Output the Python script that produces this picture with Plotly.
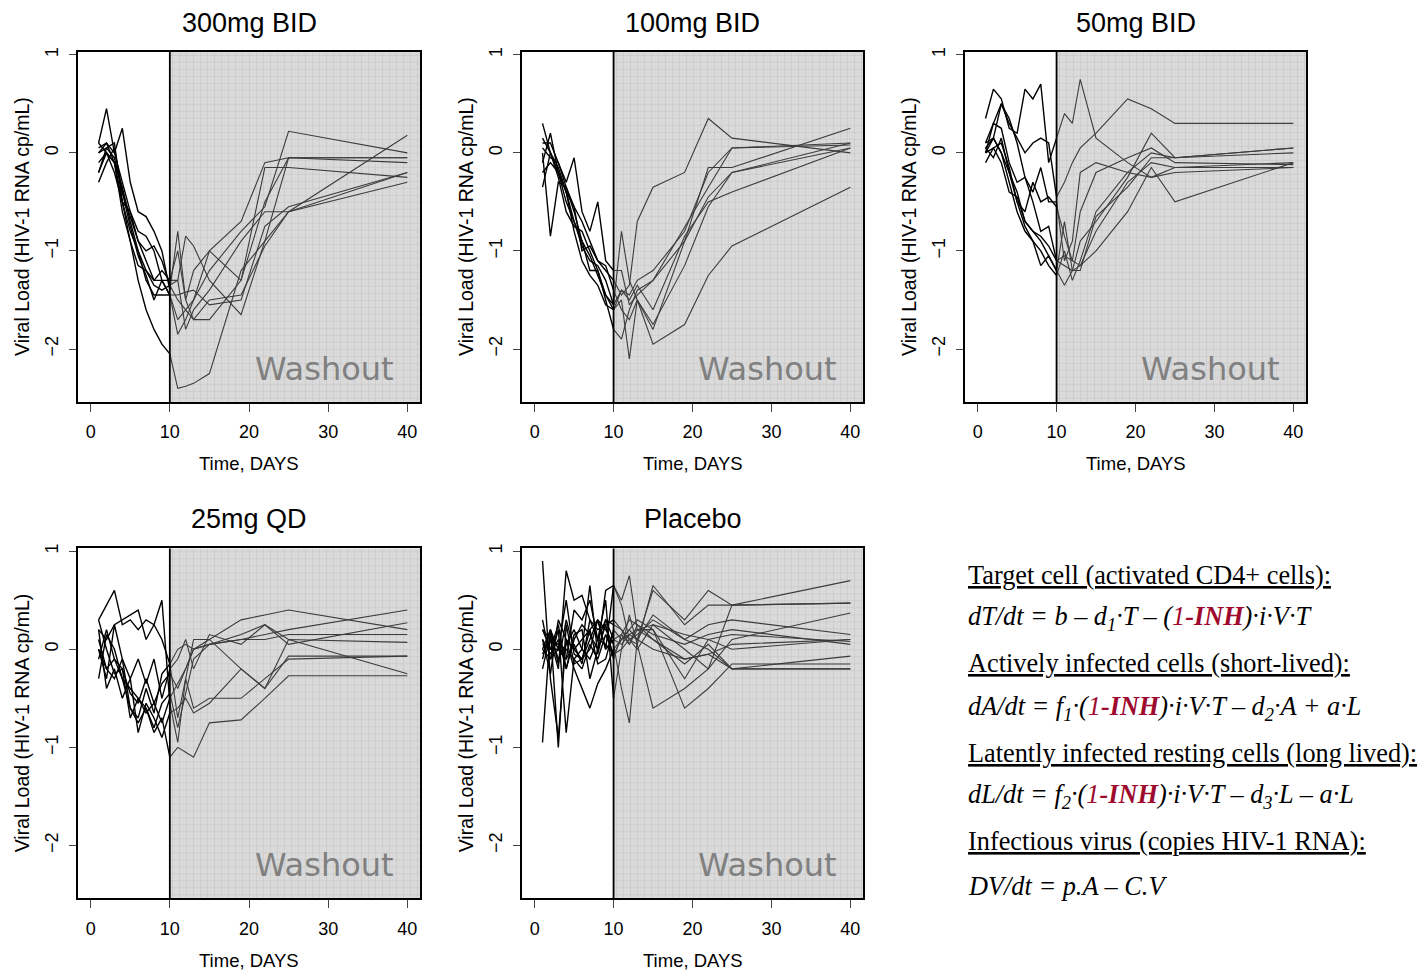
import plotly.graph_objects as go

# ---------------- data ----------------
panel_titles = ["300mg BID", "100mg BID", "50mg BID", "25mg QD", "Placebo"]
treat_days = [1, 2, 3, 4, 5, 6, 7, 8, 9, 10]
washout_days = [11, 12, 13, 15, 19, 22, 25, 40]
washout_start = 10
x_ticks = [0, 10, 20, 30, 40]
y_ticks = [-2, -1, 0, 1]

bid300_treat = [
    [0.1, 0.45, 0.0, -0.3, -0.6, -0.9, -1.1, -1.3, -1.3, -1.45],
    [-0.2, 0.05, 0.1, -0.5, -0.9, -1.3, -1.6, -1.8, -1.95, -2.05],
    [0.0, 0.1, 0.0, 0.25, -0.3, -0.6, -0.65, -0.8, -1.0, -1.4],
    [0.1, 0.0, -0.1, -0.5, -0.6, -0.8, -0.85, -1.0, -1.3, -1.3],
    [-0.1, 0.0, -0.2, -0.5, -0.8, -1.0, -1.2, -1.35, -1.4, -1.35],
    [0.05, 0.1, -0.1, -0.6, -0.9, -1.15, -1.2, -1.3, -1.2, -1.3],
    [-0.2, 0.0, -0.1, -0.35, -0.7, -1.0, -1.3, -1.45, -1.45, -1.45],
    [0.0, 0.05, -0.05, -0.4, -0.65, -0.9, -1.0, -0.95, -1.1, -1.35],
    [-0.3, -0.1, 0.05, -0.4, -0.75, -1.05, -1.25, -1.5, -1.3, -1.45],
]
bid300_washout = [
    [-1.85, -1.7, -1.5, -1.2, -0.8, -0.55, 0.22, 0.0],
    [-2.4, -2.38, -2.35, -2.25, -1.2, -0.9, -0.6, -0.3],
    [-0.8, -1.5, -1.2, -1.0, -1.3, -0.15, -0.15, -0.25],
    [-1.3, -0.85, -0.95, -1.3, -1.65, -0.9, -0.05, -0.05],
    [-1.3, -1.8, -1.6, -1.4, -0.9, -0.6, -0.6, -0.2],
    [-1.0, -1.5, -1.7, -1.7, -1.3, -0.5, -0.05, -0.1],
    [-1.7, -1.6, -1.5, -1.0, -0.7, -0.1, -0.05, -0.05],
    [-1.5, -1.6, -1.7, -1.5, -1.45, -0.95, -0.6, 0.18],
    [-1.45, -1.42, -1.4, -1.55, -1.5, -0.75, -0.55, -0.2],
]

bid100_treat = [
    [0.3, 0.0, -0.15, -0.4, -0.55, -1.0, -0.95, -1.1, -1.2, -1.3],
    [0.0, -0.85, -0.3, -0.35, -0.55, -0.7, -0.9, -1.1, -1.15, -1.4],
    [0.1, 0.1, -0.1, -0.3, -0.05, -0.6, -0.8, -0.5, -1.1, -1.2],
    [-0.1, 0.2, -0.2, -0.4, -0.7, -0.9, -1.2, -1.2, -1.45, -1.6],
    [-0.35, 0.0, -0.2, -0.5, -0.7, -0.95, -1.1, -1.15, -1.3, -1.55],
    [0.15, 0.0, -0.25, -0.6, -0.75, -0.8, -1.0, -1.2, -1.5, -1.8],
    [0.05, -0.05, -0.1, -0.35, -0.6, -0.9, -1.05, -1.25, -1.45, -1.55],
    [-0.2, -0.1, -0.2, -0.4, -0.8, -1.1, -1.25, -1.35, -1.55, -1.6],
]
bid100_washout = [
    [-1.45, -1.35, -0.7, -0.35, -0.2, 0.35, 0.15, 0.0],
    [-1.6, -1.7, -1.5, -1.8, -0.9, -0.15, -0.15, 0.25],
    [-1.2, -1.55, -1.45, -1.3, -0.75, -0.35, 0.05, 0.1],
    [-1.5, -2.1, -1.5, -1.95, -1.75, -1.25, -0.95, -0.35],
    [-0.8, -1.3, -1.5, -1.75, -1.15, -0.55, -0.2, 0.05],
    [-1.9, -1.6, -1.4, -1.3, -0.9, -0.45, -0.2, 0.1],
    [-1.4, -1.45, -1.3, -1.2, -0.8, -0.2, 0.05, 0.08],
    [-1.4, -1.5, -1.35, -1.6, -0.85, -0.5, -0.4, 0.05],
]

bid50_treat = [
    [0.35, 0.65, 0.55, 0.25, 0.2, 0.65, 0.55, 0.7, -0.1, 0.15],
    [0.1, 0.3, 0.5, 0.3, 0.15, 0.0, 0.1, 0.15, 0.1, -0.45],
    [0.0, 0.3, 0.25, -0.1, -0.3, -0.25, -0.5, -0.8, -0.75, -1.1],
    [0.05, 0.15, 0.0, -0.3, -0.6, -0.8, -0.9, -1.0, -1.15, -1.25],
    [-0.1, 0.05, 0.1, -0.15, -0.5, -0.75, -0.9, -1.15, -1.05, -1.2],
    [0.05, -0.05, 0.15, -0.2, -0.4, -0.7, -0.8, -0.85, -0.95, -1.1],
    [0.0, 0.15, 0.0, -0.2, -0.5, -0.6, -0.3, -0.5, -0.45, -0.55],
    [0.1, 0.15, 0.5, 0.35, 0.1, -0.25, -0.4, -0.15, -0.5, -0.5],
    [0.0, 0.05, -0.1, -0.4, -0.45, -0.7, -0.8, -0.9, -1.05, -1.2],
]
bid50_washout = [
    [0.4, 0.3, 0.75, 0.15, -0.1, -0.25, -0.2, -0.15],
    [-0.3, -0.1, 0.05, 0.2, 0.55, 0.45, 0.3, 0.3],
    [-1.15, -1.2, -0.9, -0.7, -0.25, 0.2, -0.05, 0.05],
    [-1.0, -1.3, -1.1, -0.6, -0.2, 0.0, -0.05, 0.0],
    [-1.35, -1.2, -1.15, -0.8, -0.3, -0.1, -0.15, -0.1],
    [-1.05, -1.1, -0.6, -0.2, -0.05, 0.05, -0.1, -0.12],
    [-0.85, -1.1, -1.15, -1.0, -0.6, -0.15, -0.5, -0.1],
    [-1.1, -0.9, -0.2, -0.1, -0.2, -0.25, -0.15, -0.15],
    [-0.7, -1.2, -1.2, -0.65, -0.35, -0.05, -0.05, 0.05],
]

qd25_treat = [
    [0.3, 0.45, 0.6, 0.25, 0.3, 0.2, 0.3, 0.25, 0.5, -0.55],
    [0.2, 0.1, 0.25, 0.3, 0.35, 0.4, 0.1, 0.25, 0.1, -0.15],
    [0.0, -0.3, 0.25, -0.1, -0.3, -0.1, -0.35, -0.1, -0.5, -0.2],
    [0.1, -0.2, -0.1, -0.3, -0.6, -0.75, -0.6, -0.85, -0.7, -1.1],
    [0.2, -0.4, -0.2, -0.5, -0.3, -0.85, -0.55, -0.7, -0.9, -0.65],
    [-0.1, 0.2, -0.1, -0.2, -0.45, -0.55, -0.3, -0.55, -0.35, -0.25],
    [0.0, -0.2, -0.3, -0.1, -0.6, -0.7, -0.4, -0.65, -0.25, -0.15],
    [0.3, 0.0, -0.25, -0.2, -0.7, -0.5, -0.6, -0.8, -0.55, -0.45],
    [-0.3, 0.15, 0.0, -0.3, -0.4, -0.5, -0.65, -0.55, -0.75, -0.5],
]
qd25_washout = [
    [-0.95, -0.3, -0.6, -0.5, -0.5, -0.3, -0.1, -0.07],
    [0.0, 0.05, 0.0, 0.1, 0.3, 0.35, 0.4, 0.2],
    [-0.1, 0.1, -0.2, 0.15, 0.05, 0.25, 0.1, -0.25],
    [-1.0, -1.05, -1.1, -0.75, -0.72, -0.5, -0.27, -0.27],
    [-0.6, -0.5, -0.65, -0.55, -0.2, -0.4, 0.1, 0.07],
    [-0.4, -0.2, 0.0, 0.05, 0.1, 0.15, 0.2, 0.4],
    [-0.7, -0.3, 0.1, 0.1, -0.2, -0.4, -0.07, -0.07],
    [-0.8, -0.45, -0.1, 0.05, 0.15, 0.25, 0.05, 0.27],
    [-0.35, -0.2, 0.0, 0.05, 0.1, 0.1, 0.15, 0.15],
]

placebo_treat = [
    [0.9, -0.3, -0.9, 0.1, 0.0, -0.1, 0.1, 0.3, 0.0, 0.65],
    [-0.95, 0.2, -1.0, 0.25, -0.15, -0.1, 0.0, 0.3, 0.2, 0.05],
    [0.2, 0.1, -0.2, 0.8, 0.5, 0.55, 0.3, 0.1, 0.5, -0.5],
    [0.0, -0.1, 0.2, -0.85, -0.1, 0.0, 0.65, -0.05, 0.3, 0.1],
    [0.1, -0.25, 0.3, 0.1, -0.2, -0.4, -0.6, -0.35, -0.2, 0.0],
    [-0.1, 0.2, 0.0, -0.1, 0.05, -0.15, 0.3, 0.2, 0.25, 0.3],
    [0.05, 0.0, 0.25, -0.2, 0.1, 0.25, 0.15, 0.0, 0.6, 0.65],
    [0.3, -0.1, 0.0, 0.5, -0.05, -0.1, 0.2, -0.15, -0.1, 0.2],
    [-0.2, 0.15, -0.1, 0.05, 0.2, 0.0, -0.1, 0.1, 0.05, -0.05],
    [0.0, 0.2, -0.15, 0.3, 0.0, 0.1, 0.2, 0.3, 0.0, 0.1],
    [0.1, -0.05, 0.1, -0.2, 0.15, 0.2, -0.3, 0.0, 0.25, -0.1],
    [0.2, 0.0, 0.0, -0.1, 0.4, 0.3, 0.5, 0.1, 0.3, 0.25],
    [-0.05, 0.1, 0.05, 0.0, -0.1, -0.2, 0.05, -0.1, 0.15, -0.05],
]
placebo_washout = [
    [0.5, 0.75, 0.2, 0.1, -0.1, -0.05, -0.2, -0.2],
    [-0.4, -0.75, 0.1, 0.6, 0.3, 0.6, 0.45, 0.7],
    [0.0, 0.35, 0.05, -0.6, -0.4, -0.2, 0.45, 0.47],
    [0.15, 0.05, 0.2, 0.25, 0.0, -0.2, 0.1, 0.37],
    [0.1, 0.2, 0.3, 0.2, -0.6, -0.4, -0.15, -0.15],
    [0.2, 0.1, 0.0, 0.25, 0.15, 0.1, 0.0, 0.1],
    [0.45, 0.1, 0.05, 0.65, 0.25, 0.45, 0.45, 0.47],
    [0.1, 0.15, 0.2, 0.2, -0.3, 0.1, 0.15, 0.08],
    [0.0, 0.1, 0.15, 0.3, 0.1, 0.0, -0.2, -0.2],
    [0.05, 0.15, 0.1, 0.35, 0.1, 0.25, 0.3, 0.15],
    [0.15, 0.3, 0.25, 0.1, -0.15, 0.05, -0.2, -0.07],
    [0.2, 0.05, 0.25, 0.15, 0.05, 0.15, 0.2, 0.05],
    [0.1, 0.2, 0.1, 0.0, -0.1, -0.05, 0.05, 0.1],
]

panels_treat = [bid300_treat, bid100_treat, bid50_treat, qd25_treat, placebo_treat]
panels_washout = [bid300_washout, bid100_washout, bid50_washout, qd25_washout, placebo_washout]

equation_lines = [
    "<u>Target cell (activated CD4+ cells):</u>",
    "<i>dT/dt = b – d</i><sub><i>1</i></sub><i>·T – (</i>{INH}<i>)·i·V·T</i>",
    "<u>Actively infected cells (short-lived):</u>",
    "<i>dA/dt = f</i><sub><i>1</i></sub><i>·(</i>{INH}<i>)·i·V·T – d</i><sub><i>2</i></sub><i>·A + a·L</i>",
    "<u>Latently infected resting cells (long lived):</u>",
    "<i>dL/dt = f</i><sub><i>2</i></sub><i>·(</i>{INH}<i>)·i·V·T – d</i><sub><i>3</i></sub><i>·L – a·L</i>",
    "<u>Infectious virus (copies HIV-1 RNA):</u>",
    "<i>DV/dt = p.A – C.V</i>",
]
inh_html = '<span style="color:#9e0a2e"><i>1</i><b><i>-INH</i></b></span>'

# ---------------- layout geometry ----------------
W, H = 1427, 973
OFF = 8  # page body margin
col_px = [(78, 420), (522, 863), (965, 1306)]
row_px = [(47, 399), (546, 898)]
panel_pos = [(0, 0), (0, 1), (0, 2), (1, 0), (1, 1)]
x_range = [-1.6, 41.6]
y_range = [-2.54, 1.03]


def px_x(p):
    return (p - OFF) / W


def px_y(p):
    return 1 - (p - OFF) / H


fig = go.Figure()
layout = dict(
    width=W, height=H, margin=dict(l=0, r=0, t=0, b=0),
    paper_bgcolor="white", plot_bgcolor="white", showlegend=False,
    font=dict(family="Liberation Sans, Arial, sans-serif", color="black"),
)
annotations = []
shapes = []

for k, (r, c) in enumerate(panel_pos):
    n = k + 1
    xa = "x" if n == 1 else f"x{n}"
    ya = "y" if n == 1 else f"y{n}"
    x0p, x1p = col_px[c]
    y0p, y1p = row_px[r]
    layout["xaxis" if n == 1 else f"xaxis{n}"] = dict(
        domain=[px_x(x0p), px_x(x1p)], anchor=ya, range=x_range,
        tickvals=x_ticks, ticks="outside", ticklen=8, tickwidth=1.3,
        showline=True, mirror=True, linecolor="black", linewidth=1.5,
        showgrid=False, zeroline=False, tickfont=dict(size=18),
        ticklabelstandoff=5,
    )
    layout["yaxis" if n == 1 else f"yaxis{n}"] = dict(
        domain=[px_y(y1p), px_y(y0p)], anchor=xa, range=y_range,
        tickvals=y_ticks, ticks="outside", ticklen=7, tickwidth=1.3,
        showline=True, mirror=True, linecolor="black", linewidth=1.5,
        showgrid=False, zeroline=False, tickfont=dict(size=18),
        tickangle=-90, ticklabelstandoff=4,
    )
    # washout shaded region
    fig.add_trace(go.Scatter(
        x=[washout_start, x_range[1], x_range[1], washout_start, washout_start],
        y=[y_range[0], y_range[0], y_range[1], y_range[1], y_range[0]],
        xaxis=xa, yaxis=ya, mode="lines", fill="toself",
        line=dict(width=0, color="rgba(0,0,0,0)"),
        fillcolor="#d9d9d9",
        fillpattern=dict(shape="+", bgcolor="#dadada", fgcolor="#bdbdbd",
                         size=7, solidity=0.12, fillmode="replace"),
        hoverinfo="skip",
    ))
    # subject curves
    for tv, wv in zip(panels_treat[k], panels_washout[k]):
        fig.add_trace(go.Scatter(
            x=[washout_start] + washout_days, y=[tv[-1]] + wv,
            xaxis=xa, yaxis=ya, mode="lines",
            line=dict(color="#3c3c3c", width=1.1),
        ))
    for tv in panels_treat[k]:
        fig.add_trace(go.Scatter(
            x=treat_days, y=tv, xaxis=xa, yaxis=ya, mode="lines",
            line=dict(color="black", width=1.4),
        ))
    # boundary line at start of washout
    shapes.append(dict(type="line", xref=xa, yref=ya,
                       x0=washout_start, x1=washout_start,
                       y0=y_range[0], y1=y_range[1],
                       line=dict(color="black", width=1.8), layer="above"))
    # titles / labels
    cx = px_x((x0p + x1p) / 2)
    annotations.append(dict(text=panel_titles[k], x=cx, y=px_y(y0p - 29),
                            xref="paper", yref="paper", showarrow=False,
                            font=dict(size=27), xanchor="center", yanchor="middle"))
    annotations.append(dict(text="Time, DAYS", x=cx, y=px_y(y1p + 62),
                            xref="paper", yref="paper", showarrow=False,
                            font=dict(size=18.5), xanchor="center", yanchor="middle"))
    annotations.append(dict(text="Viral Load (HIV-1 RNA cp/mL)",
                            x=px_x(x0p - 56), y=px_y((y0p + y1p) / 2),
                            xref="paper", yref="paper", showarrow=False, textangle=-90,
                            font=dict(size=19.5), xanchor="center", yanchor="middle"))
    annotations.append(dict(text="Washout", x=29.5, y=-2.2, xref=xa, yref=ya,
                            showarrow=False, xanchor="center", yanchor="middle",
                            font=dict(size=32, color="#808080",
                                      family="DejaVu Sans, Verdana, sans-serif")))

eq_y = [573, 617, 662, 707, 752, 796, 841, 886]
for line, yp in zip(equation_lines, eq_y):
    annotations.append(dict(text=line.replace("{INH}", inh_html),
                            x=px_x(966), y=px_y(yp), xref="paper", yref="paper",
                            showarrow=False, xanchor="left", yanchor="middle",
                            font=dict(size=26.3, family="Liberation Serif, Times New Roman, serif")))

layout["annotations"] = annotations
layout["shapes"] = shapes
fig.update_layout(**layout)
fig.write_html("out.html")
